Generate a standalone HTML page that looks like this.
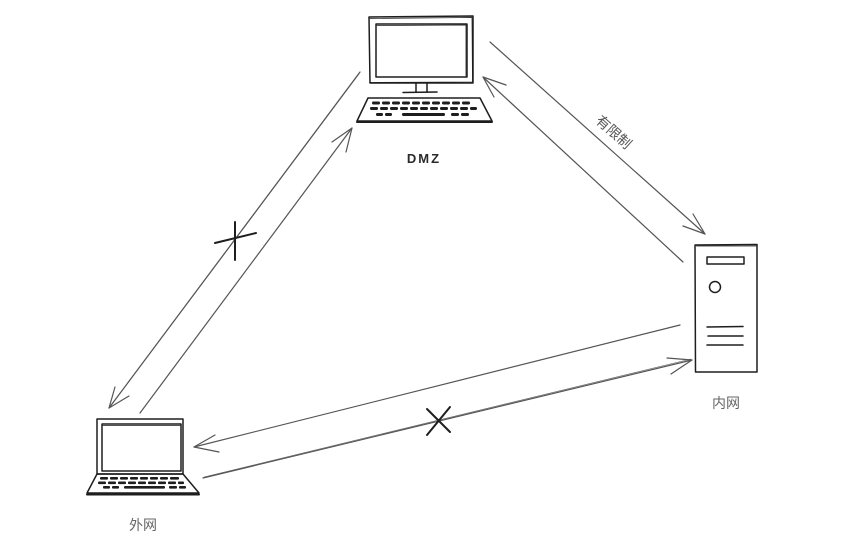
<!DOCTYPE html>
<html><head><meta charset="utf-8"><style>
html,body{margin:0;padding:0;background:#fff;}
svg{display:block;}
</style></head><body>
<svg width="842" height="540" viewBox="0 0 842 540" xmlns="http://www.w3.org/2000/svg">
<rect width="842" height="540" fill="#fff"/>
<g fill="none" stroke-linecap="round" stroke-linejoin="round">
<!-- DMZ monitor -->
<g stroke="#1e1e1e" stroke-width="1.5">
<path d="M369 17 L473 16 L473 83 L370 83 Z"/>
<path d="M370 18.5 L472 17.5 L472.5 82 L369.5 82.5" stroke-width="0.8"/>
<path d="M376 24 L467 24 L467 77 L376 77 Z"/>
<path d="M377 25.5 L466 25 L466 76" stroke-width="0.8"/>
<path d="M416 83 L416 92 M427 83 L427 92 M403 92.5 L437 92"/>
<path d="M368 98 L480 98 L492 121 L357 121 Z"/>
<path d="M357 122 L492 122" stroke-width="2"/>
</g>
<g fill="#1e1e1e">
<rect x="372" y="101.5" width="8" height="3" rx="1.2"/><rect x="382" y="101.5" width="8" height="3" rx="1.2"/><rect x="392" y="101.5" width="8" height="3" rx="1.2"/><rect x="402" y="101.5" width="8" height="3" rx="1.2"/><rect x="412" y="101.5" width="8" height="3" rx="1.2"/><rect x="422" y="101.5" width="8" height="3" rx="1.2"/><rect x="432" y="101.5" width="8" height="3" rx="1.2"/><rect x="442" y="101.5" width="8" height="3" rx="1.2"/><rect x="452" y="101.5" width="8" height="3" rx="1.2"/><rect x="462" y="101.5" width="8" height="3" rx="1.2"/>
<rect x="370" y="107" width="8" height="3" rx="1.2"/><rect x="380" y="107" width="8" height="3" rx="1.2"/><rect x="390" y="107" width="8" height="3" rx="1.2"/><rect x="400" y="107" width="8" height="3" rx="1.2"/><rect x="410" y="107" width="8" height="3" rx="1.2"/><rect x="420" y="107" width="8" height="3" rx="1.2"/><rect x="430" y="107" width="8" height="3" rx="1.2"/><rect x="440" y="107" width="8" height="3" rx="1.2"/><rect x="450" y="107" width="8" height="3" rx="1.2"/><rect x="460" y="107" width="8" height="3" rx="1.2"/><rect x="470" y="107" width="7" height="3" rx="1.2"/>
<rect x="376" y="113" width="7" height="3" rx="1.2"/><rect x="385" y="113" width="7" height="3" rx="1.2"/><rect x="402" y="113" width="43" height="3" rx="1.2"/><rect x="451" y="113" width="8" height="3" rx="1.2"/><rect x="461" y="113" width="8" height="3" rx="1.2"/>
</g>

<!-- Server -->
<g stroke="#1e1e1e" stroke-width="1.5">
<path d="M695 245 L757 244.5 L757 372 L695.5 372 Z"/>
<path d="M696.5 246 L756 246" stroke-width="0.8"/>
<path d="M707 257 L744 257 L744 264 L707 264 Z"/>
<circle cx="715" cy="287" r="5.5"/>
<path d="M707 327 L743 326.5 M708 336 L743 336 M707 345 L743 345"/>
</g>

<!-- Laptop -->
<g stroke="#1e1e1e" stroke-width="1.5">
<path d="M97 419 L183 419 L183 474 L97 474 Z"/>
<path d="M102 424 L181 424 L181 471 L102 471 Z"/>
<path d="M103 425.5 L180 425.5" stroke-width="0.8"/>
<path d="M97 474 L183 474 L199 493 L87 493 Z"/>
<path d="M87 494.5 L199 494.5" stroke-width="2"/>
</g>
<g fill="#1e1e1e">
<rect x="100" y="477" width="8" height="2.6" rx="1"/><rect x="110" y="477" width="8" height="2.6" rx="1"/><rect x="120" y="477" width="8" height="2.6" rx="1"/><rect x="130" y="477" width="8" height="2.6" rx="1"/><rect x="140" y="477" width="8" height="2.6" rx="1"/><rect x="150" y="477" width="8" height="2.6" rx="1"/><rect x="160" y="477" width="8" height="2.6" rx="1"/><rect x="170" y="477" width="9" height="2.6" rx="1"/>
<rect x="98" y="481.5" width="8" height="2.6" rx="1"/><rect x="108" y="481.5" width="8" height="2.6" rx="1"/><rect x="118" y="481.5" width="8" height="2.6" rx="1"/><rect x="128" y="481.5" width="8" height="2.6" rx="1"/><rect x="138" y="481.5" width="8" height="2.6" rx="1"/><rect x="148" y="481.5" width="8" height="2.6" rx="1"/><rect x="158" y="481.5" width="8" height="2.6" rx="1"/><rect x="168" y="481.5" width="8" height="2.6" rx="1"/><rect x="178" y="481.5" width="6" height="2.6" rx="1"/>
<rect x="103" y="486" width="7" height="2.6" rx="1"/><rect x="112" y="486" width="7" height="2.6" rx="1"/><rect x="124" y="486" width="41" height="2.6" rx="1"/><rect x="169" y="486" width="8" height="2.6" rx="1"/><rect x="179" y="486" width="7" height="2.6" rx="1"/>
</g>

<!-- Connectors -->
<g stroke="#555" stroke-width="1.2">
<path d="M490 42 L705 234"/>
<path d="M705 234 L693 214 M705 234 L683 226"/>
<path d="M683 262 L483 77"/>
<path d="M484 78 L682 261" stroke-width="0.6"/>
<path d="M483 77 L506 85 M483 77 L494 97"/>
<path d="M360 72 L109 408"/>
<path d="M359 74 L110 407" stroke-width="0.6"/>
<path d="M109 408 L115 387 M109 408 L129 396"/>
<path d="M140 413 L352 128"/>
<path d="M352 128 L332 142 M352 128 L346 152"/>
<path d="M680 325 L194 447"/>
<path d="M194 447 L215 435 M194 447 L219 452"/>
<path d="M203 478 L692 360"/>
<path d="M204 477 L691 359" stroke-width="0.6"/>
<path d="M692 360 L667 358 M692 360 L671 374"/>
</g>
<!-- X marks -->
<g stroke="#1e1e1e" stroke-width="2">
<path d="M235 222 L235 260 M215 243 L256 233"/>
<path d="M427 435 L450 407 M427 409 L450 432"/>
</g>
</g>

<!-- Labels -->
<text x="424" y="163" font-family="Liberation Sans, sans-serif" font-size="13" font-weight="bold" fill="#2a2a2a" text-anchor="middle" letter-spacing="2">DMZ</text>
<text x="726" y="408" font-family="Liberation Sans, 'Noto Sans CJK SC', sans-serif" font-size="14" fill="#666" text-anchor="middle">内网</text>
<text x="143" y="530" font-family="Liberation Sans, 'Noto Sans CJK SC', sans-serif" font-size="14" fill="#666" text-anchor="middle">外网</text>
<text x="0" y="0" transform="translate(613 133) rotate(42)" font-family="Liberation Sans, 'Noto Sans CJK SC', sans-serif" font-size="14" fill="#555" text-anchor="middle" dominant-baseline="middle">有限制</text>
</svg>
</body></html>
